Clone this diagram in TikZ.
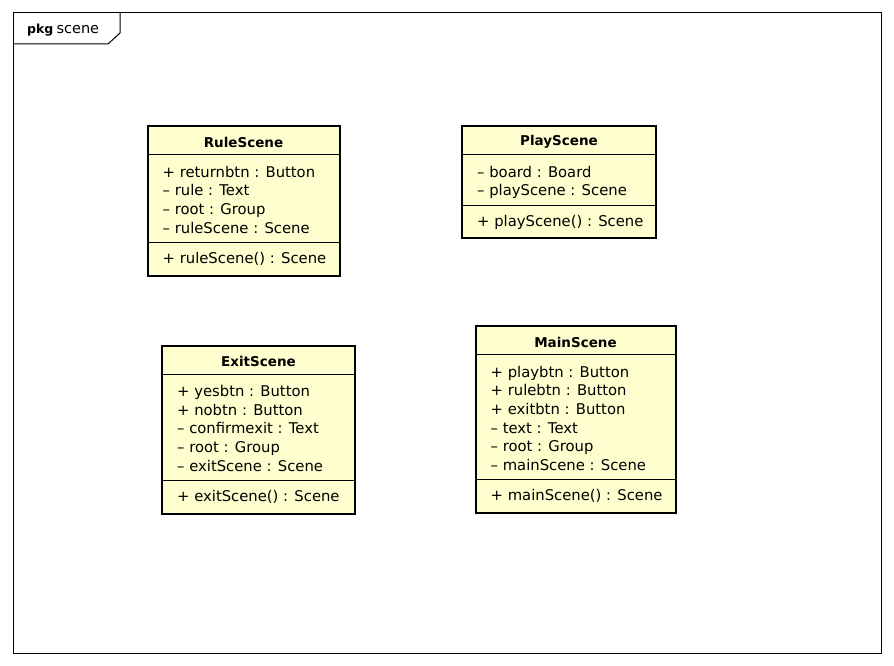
\documentclass[tikz,border=0pt]{standalone}
\usepackage{fontspec}
\setmainfont{DejaVu Sans}
\usepackage{tikz}
\usetikzlibrary{positioning}
\usepackage{xcolor}
\definecolor{classyellow}{HTML}{FEFECE}

\begin{document}
\begin{tikzpicture}[x=1pt,y=-1pt,
        classbox/.style={rectangle,draw,line width=2pt,fill=classyellow,inner sep=0pt,outer sep=0pt},
        classname/.style={font=\fontsize{13.5}{16}\selectfont\bfseries,inner sep=0pt},
        member/.style={anchor=west,font=\fontsize{14.8}{18}\selectfont,inner sep=0pt,text height=10.5pt,text depth=3.5pt},
        divider/.style={line width=1pt}]
        \useasboundingbox (0,0) rectangle (894,666);

        % package frame
        \node [rectangle,draw,line width=1pt,minimum width=868pt,minimum height=640pt,inner sep=0pt,outer sep=0pt] (frame) at (447,333) {};
        \draw [line width=1pt] (120,13) -- (120,33) -- (108,44) -- (13,44);
        \node [anchor=west,inner sep=0pt] (pkg) at (27,30.5) {{\fontsize{12.5}{14}\selectfont\bfseries pkg} {\fontsize{14.5}{16}\selectfont scene}};

        % RuleScene
        \node [classbox,minimum width=192pt,minimum height=149.5pt] (rule) at (243.5,200.75) {};
        \node [classname] (rule name) at (243.5,142) {RuleScene};
        \draw [divider] ([yshift=-28.5pt]rule.north west) -- ([yshift=-28.5pt]rule.north east);
        \draw [divider] ([yshift=-116.5pt]rule.north west) -- ([yshift=-116.5pt]rule.north east);
        \node [member] (rule a1) at (162.5,173.5) {+ returnbtn : Button};
        \node [member] (rule a2) at (162.5,192.2) {-- rule : Text};
        \node [member] (rule a3) at (162.5,210.9) {-- root : Group};
        \node [member] (rule a4) at (162.5,229.6) {-- ruleScene : Scene};
        \node [member] (rule m1) at (162.5,260) {+ ruleScene() : Scene};

        % PlayScene
        \node [classbox,minimum width=194pt,minimum height=112.1pt] (play) at (559,182.05) {};
        \node [classname] (play name) at (559,142) {PlayScene};
        \draw [divider] ([yshift=-28.5pt]play.north west) -- ([yshift=-28.5pt]play.north east);
        \draw [divider] ([yshift=-79.1pt]play.north west) -- ([yshift=-79.1pt]play.north east);
        \node [member] (play a1) at (477,173.5) {-- board : Board};
        \node [member] (play a2) at (477,192.2) {-- playScene : Scene};
        \node [member] (play m1) at (477,222.6) {+ playScene() : Scene};

        % ExitScene
        \node [classbox,minimum width=193pt,minimum height=168.2pt] (exit) at (258.5,429.6) {};
        \node [classname] (exit name) at (258.5,361.5) {ExitScene};
        \draw [divider] ([yshift=-28.5pt]exit.north west) -- ([yshift=-28.5pt]exit.north east);
        \draw [divider] ([yshift=-135.2pt]exit.north west) -- ([yshift=-135.2pt]exit.north east);
        \node [member] (exit a1) at (177,393) {+ yesbtn : Button};
        \node [member] (exit a2) at (177,411.7) {+ nobtn : Button};
        \node [member] (exit a3) at (177,430.4) {-- confirmexit : Text};
        \node [member] (exit a4) at (177,449.1) {-- root : Group};
        \node [member] (exit a5) at (177,467.8) {-- exitScene : Scene};
        \node [member] (exit m1) at (177,498.2) {+ exitScene() : Scene};

        % MainScene
        \node [classbox,minimum width=200pt,minimum height=186.9pt] (main) at (575.5,419.45) {};
        \node [classname] (main name) at (575.5,342) {MainScene};
        \draw [divider] ([yshift=-28.5pt]main.north west) -- ([yshift=-28.5pt]main.north east);
        \draw [divider] ([yshift=-153.9pt]main.north west) -- ([yshift=-153.9pt]main.north east);
        \node [member] (main a1) at (490.5,373.5) {+ playbtn : Button};
        \node [member] (main a2) at (490.5,392.2) {+ rulebtn : Button};
        \node [member] (main a3) at (490.5,410.9) {+ exitbtn : Button};
        \node [member] (main a4) at (490.5,429.6) {-- text : Text};
        \node [member] (main a5) at (490.5,448.3) {-- root : Group};
        \node [member] (main a6) at (490.5,467) {-- mainScene : Scene};
        \node [member] (main m1) at (490.5,497.4) {+ mainScene() : Scene};
\end{tikzpicture}
\end{document}
